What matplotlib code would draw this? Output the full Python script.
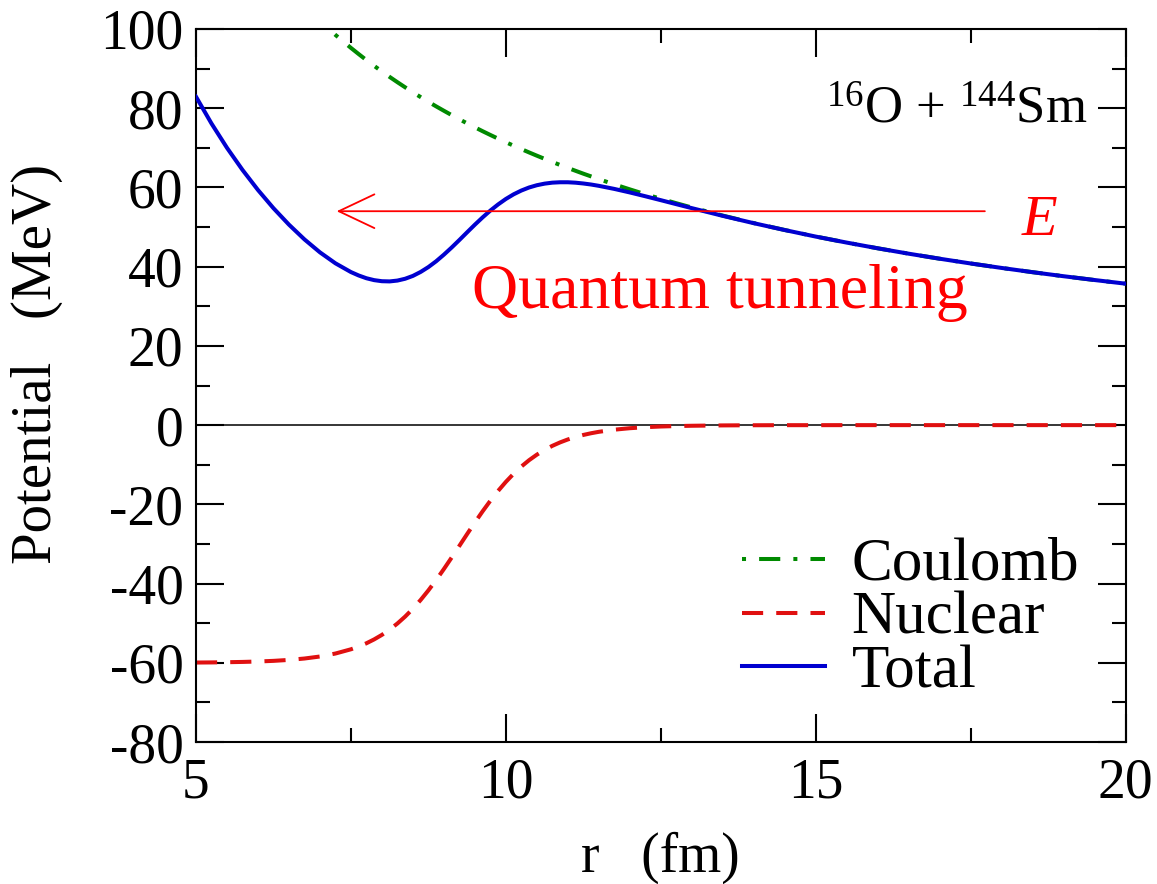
import matplotlib
matplotlib.use("Agg")
import matplotlib.pyplot as plt
from matplotlib.ticker import MultipleLocator

# r grid (fm) and potentials (MeV)
r = [5.00, 5.25, 5.50, 5.75, 6.00, 6.25, 6.50, 6.75, 7.00, 7.25, 7.50, 7.625, 7.75,
     7.875, 8.00, 8.125, 8.25, 8.375, 8.50, 8.625, 8.75, 8.875, 9.00, 9.125, 9.25,
     9.375, 9.50, 9.625, 9.75, 9.875, 10.00, 10.125, 10.25, 10.375, 10.50, 10.625,
     10.75, 10.875, 11.00, 11.125, 11.25, 11.375, 11.50, 11.75, 12.00, 12.25, 12.50,
     12.75, 13.00, 13.50, 14.00, 14.50, 15.00, 15.50, 16.00, 16.50, 17.00, 17.50,
     18.00, 18.50, 19.00, 19.50, 20.00]

coulomb = [142.84, 136.04, 129.85, 124.21, 119.03, 114.27, 109.88, 105.81, 102.03, 98.51,
           95.23, 93.67, 92.15, 90.69, 89.28, 87.90, 86.57, 85.28, 84.02, 82.81, 81.62,
           80.47, 79.36, 78.27, 77.21, 76.18, 75.18, 74.20, 73.25, 72.32, 71.42, 70.54,
           69.68, 68.84, 68.02, 67.22, 66.44, 65.67, 64.93, 64.20, 63.48, 62.79, 62.10,
           60.78, 59.52, 58.30, 57.14, 56.02, 54.94, 52.90, 51.01, 49.26, 47.61, 46.08,
           44.64, 43.28, 42.01, 40.81, 39.68, 38.61, 37.59, 36.63, 35.71]

nuclear = [-59.93, -59.90, -59.85, -59.78, -59.67, -59.51, -59.27, -58.92, -58.41, -57.66,
           -56.59, -55.89, -55.07, -54.09, -52.95, -51.62, -50.08, -48.33, -46.35, -44.14,
           -41.72, -39.11, -36.33, -33.44, -30.48, -27.50, -24.58, -21.76, -19.09, -16.61,
           -14.33, -12.28, -10.46, -8.85, -7.46, -6.26, -5.23, -4.36, -3.62, -3.00, -2.48,
           -2.05, -1.69, -1.15, -0.78, -0.52, -0.35, -0.24, -0.16, -0.07, -0.03, -0.01,
           -0.01, 0.0, 0.0, 0.0, 0.0, 0.0, 0.0, 0.0, 0.0, 0.0, 0.0]

total = [82.91, 76.14, 70.00, 64.43, 59.36, 54.76, 50.61, 46.89, 43.62, 40.85,
         38.64, 37.78, 37.08, 36.60, 36.33, 36.28, 36.49, 36.95, 37.67, 38.67, 39.90,
         41.36, 43.03, 44.83, 46.73, 48.68, 50.60, 52.44, 54.16, 55.71, 57.09, 58.26,
         59.22, 59.99, 60.56, 60.96, 61.21, 61.31, 61.31, 61.20, 61.00, 60.74, 60.41,
         59.63, 58.74, 57.78, 56.79, 55.78, 54.78, 52.83, 50.98, 49.25, 47.60, 46.08,
         44.64, 43.28, 42.01, 40.81, 39.68, 38.61, 37.59, 36.63, 35.71]

energy = 54.0
arrow_from, arrow_to = 17.73, 7.27

plt.rcParams["font.family"] = ["Liberation Serif", "DejaVu Serif"]
plt.rcParams["mathtext.fontset"] = "custom"
plt.rcParams["mathtext.rm"] = "Liberation Serif"
plt.rcParams["mathtext.it"] = "Liberation Serif:italic"
plt.rcParams["axes.unicode_minus"] = False

fig = plt.figure(figsize=(11.57, 8.84), dpi=100)
ax = fig.add_axes([0.1694, 0.1606, 0.8034, 0.8066])

ax.axhline(0, color="black", lw=1.1, zorder=1)
ax.plot(r, coulomb, color="#008a00", lw=2.9, ls=(0, (1, 3.25, 5.25, 3.25)),
        label="Coulomb", zorder=2)
ax.plot(r, nuclear, color="#e01010", lw=2.9, ls=(0, (5.25, 3.25)), label="Nuclear", zorder=2)
ax.plot(r, total, color="#0000d0", lw=2.9, label="Total", zorder=3,
        solid_joinstyle="round")

ax.annotate("", xy=(arrow_to, energy), xytext=(arrow_from, energy),
            arrowprops=dict(arrowstyle="->,head_length=0.95,head_width=0.45",
                            color="red", lw=1.3, shrinkA=0, shrinkB=0, mutation_scale=27))
ax.text(18.33, 48.0, "E", color="red", fontsize=42, style="italic", ha="left", va="baseline")
ax.text(9.45, 29.5, "Quantum tunneling", color="red", fontsize=46, ha="left", va="baseline")
ax.text(15.17, 76.2, r"$^{16}$O + $^{144}$Sm", fontsize=38, ha="left", va="baseline")

ax.set_xlim(5, 20)
ax.set_ylim(-80, 100)
ax.xaxis.set_major_locator(MultipleLocator(5))
ax.xaxis.set_minor_locator(MultipleLocator(2.5))
ax.yaxis.set_major_locator(MultipleLocator(20))
ax.yaxis.set_minor_locator(MultipleLocator(10))
ax.tick_params(which="both", direction="in", top=True, right=True, width=1.5, labelsize=40)
ax.tick_params(which="major", length=20)
ax.tick_params(which="minor", length=10)
ax.tick_params(axis="x", pad=11)
ax.tick_params(axis="y", pad=9)
for s in ax.spines.values():
    s.set_linewidth(1.5)

ax.set_xlabel("r   (fm)", fontsize=40, labelpad=16)
ax.set_ylabel("Potential   (MeV)", fontsize=41)
ax.yaxis.set_label_coords(-0.143, 0.53)

leg = ax.legend(loc="center left", bbox_to_anchor=(0.587, 0.1725), frameon=False,
                fontsize=44, handlelength=1.36, handletextpad=0.44, labelspacing=-0.03,
                borderpad=0, borderaxespad=0)

fig.savefig("out.png", dpi=100)
